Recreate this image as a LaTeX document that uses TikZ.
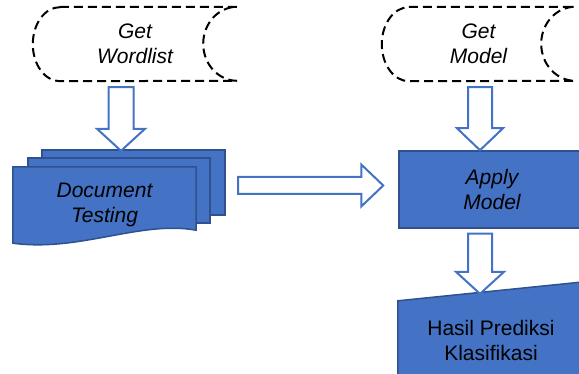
\documentclass[tikz,border=0pt]{standalone}
\usepackage{fontspec}
\setmainfont{Liberation Sans}
\usetikzlibrary{calc,backgrounds}
\definecolor{boxblue}{HTML}{4472C4}
\definecolor{boxline}{HTML}{2F528F}
\begin{document}
\begin{tikzpicture}[x=1pt,y=1pt,
		boxtext/.style={align=center,font=\fontsize{21}{25}\selectfont},
		italictext/.style={align=center,font=\fontsize{21}{25}\selectfont\itshape},
		storeline/.style={draw=black,line width=2pt,dash pattern=on 9pt off 5pt},
		pagefill/.style={fill=boxblue,draw=boxline,line width=1.5pt},
		blockarrow/.style 2 args={draw=boxblue,fill=white,line width=2pt,line join=miter,
			to path={($(\tikztostart)!#1!90:(\tikztotarget)$)
				-- ($($(\tikztotarget)!22pt!(\tikztostart)$)!#1!-90:(\tikztostart)$)
				-- ($($(\tikztotarget)!22pt!(\tikztostart)$)!#2!-90:(\tikztostart)$)
				-- (\tikztotarget)
				-- ($($(\tikztotarget)!22pt!(\tikztostart)$)!#2!90:(\tikztostart)$)
				-- ($($(\tikztotarget)!22pt!(\tikztostart)$)!#1!90:(\tikztostart)$)
				-- ($(\tikztostart)!#1!-90:(\tikztotarget)$) -- cycle}}]
	\useasboundingbox (0,0) rectangle (579,374);
	\clip (0,0) rectangle (579,374);

	\node (wordlist) [italictext,minimum width=204pt,minimum height=74pt] at (135,330) {Get\\Wordlist};
	\draw [storeline] ([xshift=27pt]wordlist.north west) -- (wordlist.north east)
		arc[start angle=90,end angle=270,x radius=34pt,y radius=37pt]
		-- ([xshift=27pt]wordlist.south west)
		arc[start angle=270,end angle=90,x radius=27pt,y radius=37pt] -- cycle;

	\node (getmodel) [italictext,minimum width=193pt,minimum height=74pt] at (478.5,330) {Get\\Model};
	\draw [storeline] ([xshift=27pt]getmodel.north west) -- (getmodel.north east)
		arc[start angle=90,end angle=270,x radius=34pt,y radius=37pt]
		-- ([xshift=27pt]getmodel.south west)
		arc[start angle=270,end angle=90,x radius=27pt,y radius=37pt] -- cycle;

	\node (doc) [italictext,minimum width=183pt,minimum height=76pt] at (104.5,169) {Document\\Testing};
	\begin{scope}[on background layer]
		\draw [pagefill] ([shift={(29pt,17pt)}]doc.north west) rectangle ([shift={(29pt,28pt)}]doc.south east);
		\draw [pagefill] ([shift={(15pt,9pt)}]doc.north west) rectangle ([shift={(14pt,20pt)}]doc.south east);
		\draw [pagefill] (doc.north west) -- (doc.north east) -- ([yshift=13pt]doc.south east)
			.. controls +(-56pt,10pt) and +(67pt,-9pt) .. (doc.south west) -- cycle;
	\end{scope}

	\node (apply) [italictext,pagefill,minimum width=186pt,minimum height=77pt] at (492,184.5) {Apply\\Model};

	\node (hasil) [boxtext,minimum width=186pt,minimum height=96pt] at (491,34) {Hasil Prediksi\\Klasifikasi};
	\begin{scope}[on background layer]
		\draw [pagefill] (hasil.south west) -- ([yshift=-9pt]hasil.north west)
			-- ([yshift=10pt]hasil.north east) -- (hasil.south east) -- cycle;
	\end{scope}

	\coordinate (a1s) at ([xshift=-14pt,yshift=-6pt]wordlist.south);
	\coordinate (a1e) at ([xshift=16.5pt,yshift=16pt]doc.north);
	\coordinate (a2s) at ([xshift=42pt,yshift=19.5pt]doc.east);
	\coordinate (a2e) at ($(a2s -| apply.west)+(-15pt,0)$);
	\coordinate (a3s) at ([xshift=1.5pt,yshift=-6pt]getmodel.south);
	\coordinate (a3e) at (a3s |- apply.north);
	\coordinate (a4s) at ([xshift=-12pt,yshift=-5pt]apply.south);
	\coordinate (a4e) at ($(a4s |- hasil.north)+(0,-2pt)$);
	\draw [blockarrow={12.5pt}{24pt}] (a1s) to (a1e);
	\draw [blockarrow={8.5pt}{21pt}] (a2s) to (a2e);
	\draw [blockarrow={12pt}{23pt}] (a3s) to (a3e);
	\draw [blockarrow={12pt}{24pt}] (a4s) to (a4e);
\end{tikzpicture}
\end{document}
